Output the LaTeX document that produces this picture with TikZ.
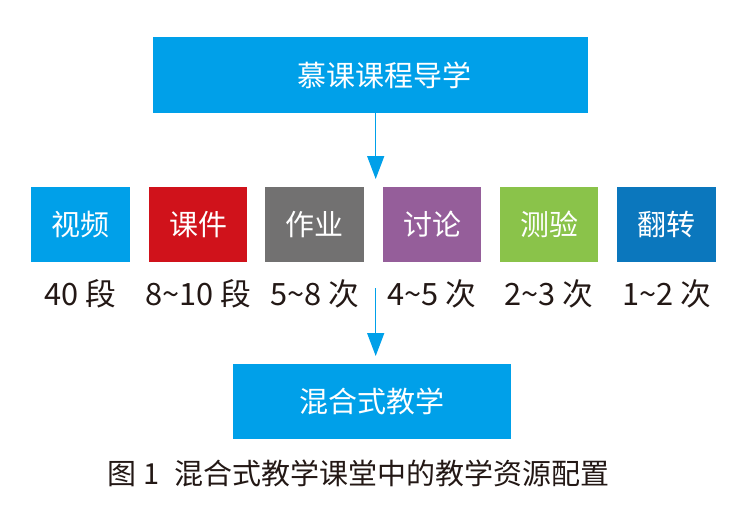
\documentclass[tikz,border=0pt]{standalone}
\usepackage{fontspec}
\setmainfont{Noto Sans CJK SC}
\usetikzlibrary{arrows.meta}

\definecolor{moocblue}{HTML}{00A0E9}
\definecolor{kjred}{HTML}{D0121B}
\definecolor{zygrey}{HTML}{727171}
\definecolor{tlpurple}{HTML}{955E9A}
\definecolor{cygreen}{HTML}{8AC34A}
\definecolor{fzblue}{HTML}{0B77BD}
\definecolor{inkdark}{HTML}{231815}

\tikzset{
  bigbox/.style={fill=moocblue, text=white, minimum height=1.52cm, inner sep=0pt, font=\fontsize{16.5}{18}\selectfont},
  resbox/.style={fill=#1, text=white, minimum width=1.98cm, minimum height=1.5cm, inner sep=0pt, font=\fontsize{16.5}{18}\selectfont},
  amount/.style={text=inkdark, inner sep=0pt, font=\fontsize{17.5}{19}\selectfont},
  flow/.style={draw=moocblue, line width=0.85pt, -{Triangle[length=0.46cm,width=0.34cm]}}
}

\begin{document}
\begin{tikzpicture}[x=0.02cm,y=-0.02cm]
                    \useasboundingbox (0,0) rectangle (754,524);

                    % Top box
                    \node[bigbox, minimum width=8.7cm] (daoxue) at (370.5,75) {\hspace*{0.56cm}慕课课程导学};

                    % Resource boxes
                    \node[resbox=moocblue] (shipin) at (80.5,224.5) {视频};
                    \node[resbox=kjred] (kejian) at (198,224.5) {课件};
                    \node[resbox=zygrey] (zuoye) at (314.5,224.5) {作业};
                    \node[resbox=tlpurple] (taolun) at (432,224.5) {讨论};
                    \node[resbox=cygreen] (ceyan) at (549,224.5) {测验};
                    \node[resbox=fzblue] (fanzhuan) at (666.5,224.5) {翻转};

                    % Amounts
                    \node[amount] (n1) at (80.5,293.5) {40 段};
                    \node[amount] (n2) at (198,293.5) {8\textasciitilde 10 段};
                    \node[amount] (n3) at (314.5,293.5) {5\textasciitilde 8 次};
                    \node[amount] (n4) at (432,293.5) {4\textasciitilde 5 次};
                    \node[amount] (n5) at (549,293.5) {2\textasciitilde 3 次};
                    \node[amount] (n6) at (666.5,293.5) {1\textasciitilde 2 次};

                    % Bottom box
                    \node[bigbox, minimum width=5.56cm] (hunhe) at (372,401.5) {混合式教学};

                    % Arrows
                    \coordinate (tipa) at (375.7,179);
                    \coordinate (taila) at (375.7,288);
                    \coordinate (tipb) at (375.7,356);
                    \draw[flow] (daoxue.south -| tipa) -- (tipa);
                    \draw[flow] (taila) -- (tipb);

                    % Caption
                    \node[amount, font=\fontsize{16.5}{19}\selectfont] (caption) at (358.5,473) {图 1\hspace{0.3cm}混合式教学课堂中的教学资源配置};
\end{tikzpicture}
\end{document}
